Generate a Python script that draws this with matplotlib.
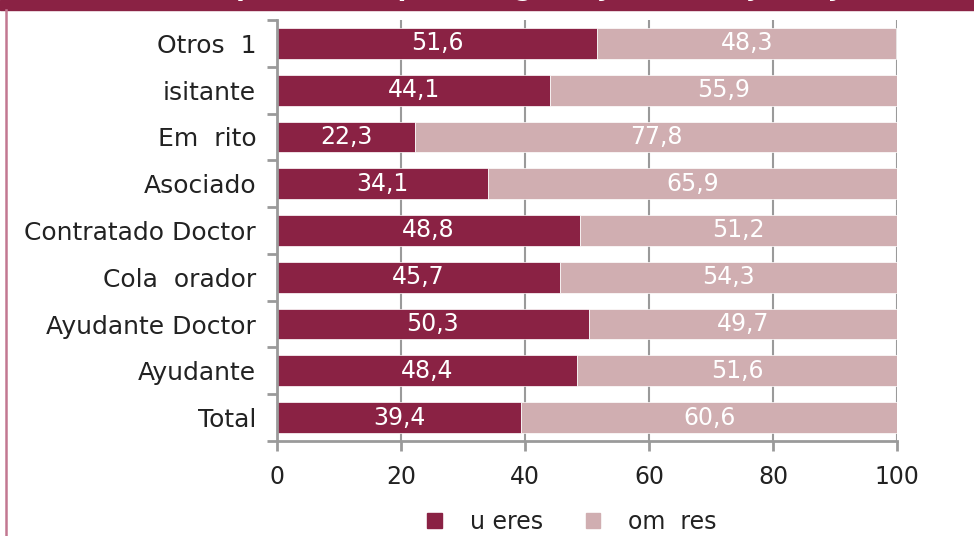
import matplotlib.pyplot as plt
from matplotlib.patches import Patch, Rectangle
from matplotlib.lines import Line2D

# categorías de profesorado, de arriba abajo
categorias = ['Otros  1', 'isitante', 'Em  rito', 'Asociado', 'Contratado Doctor',
              'Cola  orador', 'Ayudante Doctor', 'Ayudante', 'Total']
mujeres = [51.6, 44.1, 22.3, 34.1, 48.8, 45.7, 50.3, 48.4, 39.4]
hombres = [48.3, 55.9, 77.8, 65.9, 51.2, 54.3, 49.7, 51.6, 60.6]
serie_nombres = ['u eres', 'om  res']
titulo = 'Distribución porcentual por categoría y sexo, mujeres y hombres'

c_muj = '#8a2244'
c_hom = '#d0aeb1'
c_eje = '#9a9a9a'

plt.rcParams['font.family'] = ['DejaVu Sans']

fig = plt.figure(figsize=(9.74, 5.36), dpi=100)
ax = fig.add_axes([277 / 974, 1 - 441 / 536, 620 / 974, 421 / 536])

n = len(categorias)
pos = [n - 1 - i for i in range(n)]

ax.barh(pos, mujeres, height=0.66, color=c_muj, edgecolor='white', linewidth=0.5, zorder=3)
ax.barh(pos, hombres, left=mujeres, height=0.66, color=c_hom, edgecolor='white',
        linewidth=0.5, zorder=3)

def etiqueta(v):
    return f'{v:.1f}'.replace('.', ',')

for p, m, h in zip(pos, mujeres, hombres):
    ax.text(m / 2, p, etiqueta(m), ha='center', va='center', color='white',
            fontsize=17, zorder=4)
    ax.text(m + h / 2, p, etiqueta(h), ha='center', va='center', color='white',
            fontsize=17, zorder=4)

ax.set_xlim(0, 100)
ax.set_ylim(-0.5, n - 0.5)
ax.set_xticks(range(0, 101, 20))
ax.set_yticks(pos)
ax.set_yticklabels(categorias)
ax.set_yticks([i - 0.5 for i in range(n + 1)], minor=True)

ax.tick_params(axis='y', which='major', length=0, pad=15, labelsize=18, labelcolor='#222222')
ax.tick_params(axis='y', which='minor', length=7, width=2, color=c_eje)
ax.tick_params(axis='x', length=7, width=2, color=c_eje, pad=10, labelsize=17,
               labelcolor='#222222')

ax.grid(axis='x', color=c_eje, linewidth=1.5, zorder=1)
for s in ['top', 'right']:
    ax.spines[s].set_visible(False)
for s in ['left', 'bottom']:
    ax.spines[s].set_color(c_eje)
    ax.spines[s].set_linewidth(2)
    ax.spines[s].set_zorder(5)

# franja del título (cortada arriba) y borde izquierdo
fig.patches.append(Rectangle((0, 1 - 10 / 536), 1, 10 / 536, transform=fig.transFigure,
                             color=c_muj, zorder=0))
fig.lines.append(Line2D([5.5 / 974, 5.5 / 974], [0, 1 - 10 / 536], transform=fig.transFigure,
                        color='#c27891', linewidth=1.8))
fig.text(0.53, 1 + 4 / 536, titulo, ha='center', va='baseline', color='white',
         fontsize=18, fontweight='bold')

handles = [Patch(color=c_muj), Patch(color=c_hom)]
fig.legend(handles, serie_nombres, loc='center', bbox_to_anchor=(572 / 974, 1 - 522 / 536),
           ncol=2, frameon=False, fontsize=17, handlelength=0.6, handleheight=0.6,
           handletextpad=1.2, columnspacing=1.8, labelcolor='#222222')

fig.savefig('out.png', dpi=100)
